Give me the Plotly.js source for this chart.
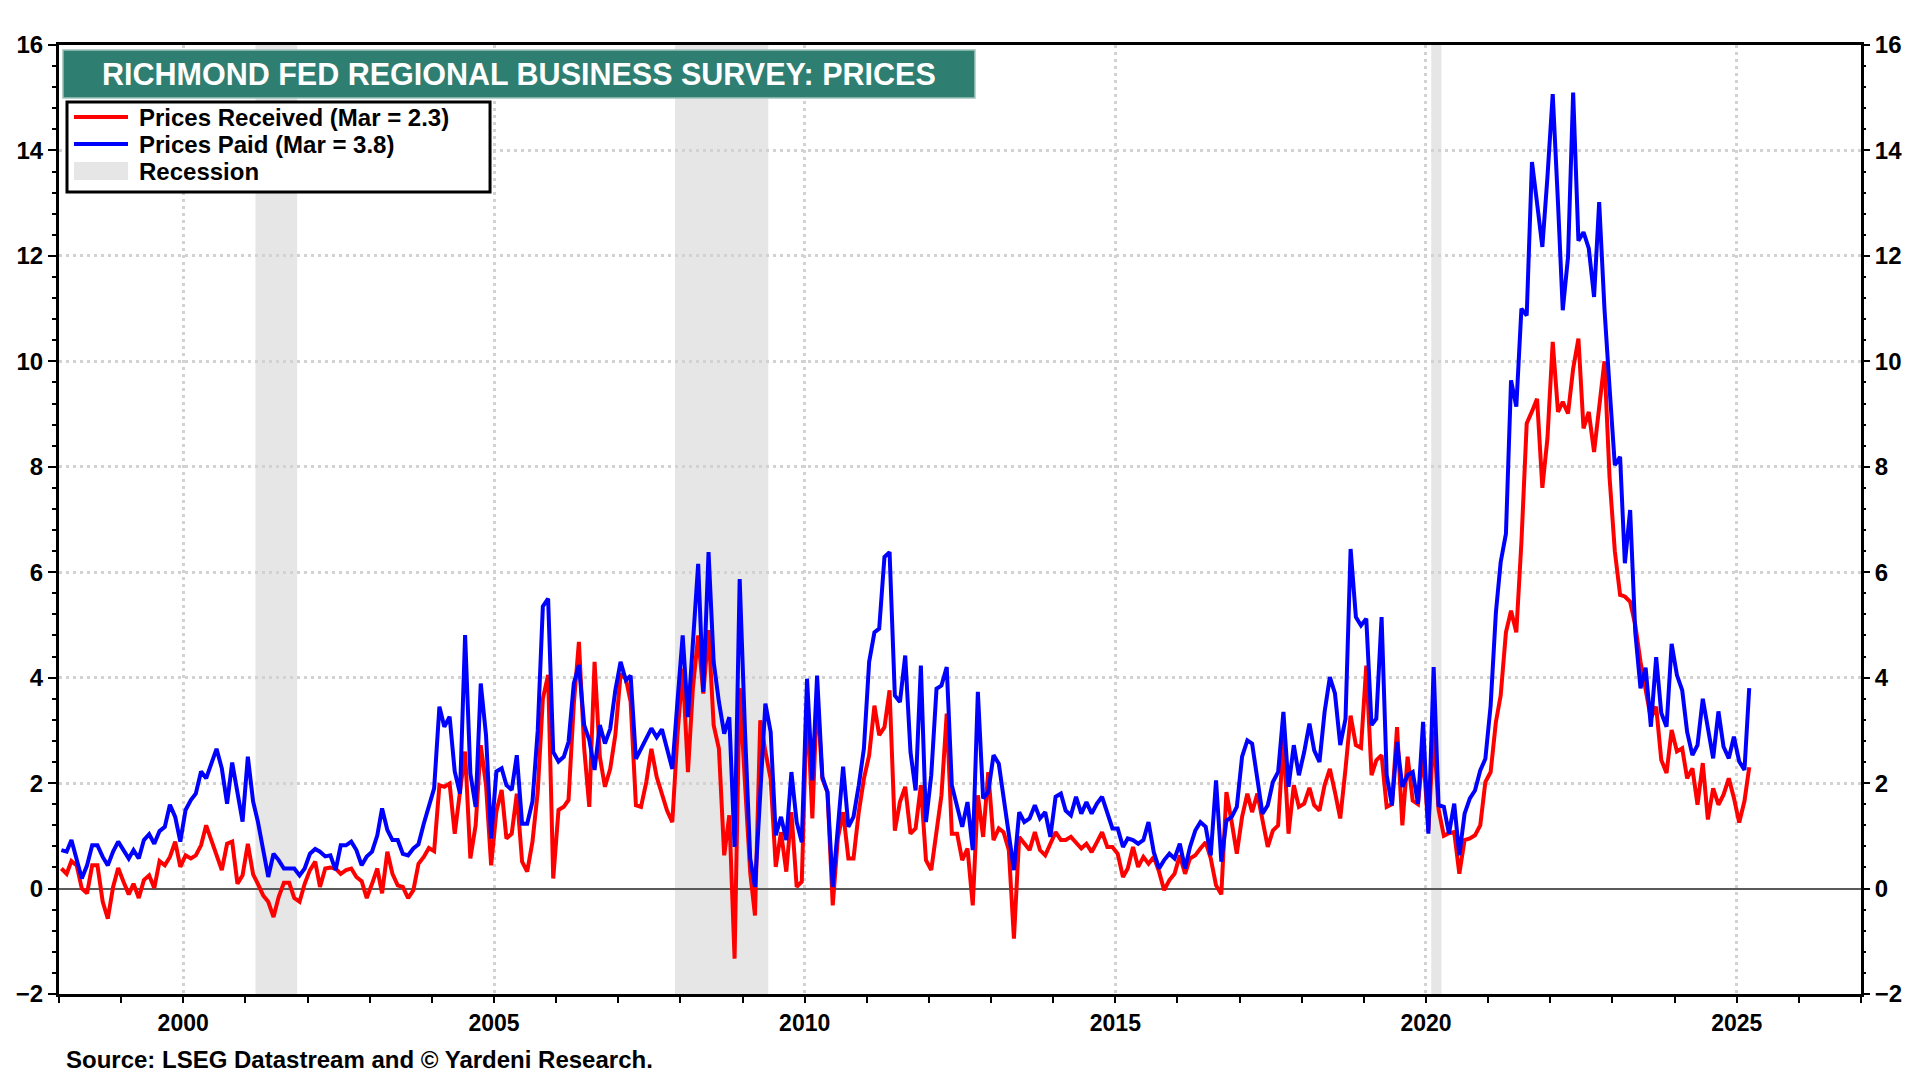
<!DOCTYPE html>
<html>
<head>
<meta charset="utf-8">
<script src="https://cdn.plot.ly/plotly-3.0.1.min.js"></script>
<style>
  html, body { margin: 0; padding: 0; background: #ffffff; }
  #chart { width: 1920px; height: 1080px; }
</style>
</head>
<body>
<div id="chart"></div>
<script>
// Monthly data, January 1998 through March 2025
const startYear = 1998;
const startMonth = 1;

const pricesReceived = [
  0.38, 0.28, 0.52, 0.44, 0.00, -0.09, 0.44, 0.44, -0.25, -0.57, 0.03, 0.39,
  0.13, -0.11, 0.09, -0.18, 0.16, 0.25, 0.01, 0.52, 0.44, 0.60, 0.89, 0.41,
  0.63, 0.57, 0.63, 0.82, 1.20, 0.92, 0.63, 0.35, 0.85, 0.89, 0.09, 0.25,
  0.85, 0.27, 0.09, -0.13, -0.25, -0.54, -0.16, 0.11, 0.11, -0.18, -0.25, 0.09,
  0.35, 0.51, 0.03, 0.38, 0.40, 0.38, 0.28, 0.35, 0.38, 0.22, 0.14, -0.18,
  0.09, 0.38, -0.09, 0.70, 0.28, 0.06, 0.03, -0.18, -0.03, 0.47, 0.60, 0.77,
  0.71, 1.96, 1.93, 1.99, 1.04, 1.80, 2.60, 0.57, 1.20, 2.72, 1.96, 0.44,
  1.46, 1.87, 0.95, 1.04, 1.80, 0.51, 0.32, 0.89, 1.84, 3.60, 4.05, 0.19,
  1.49, 1.55, 1.68, 3.50, 4.68, 2.66, 1.55, 4.30, 2.50, 1.93, 2.27, 2.91,
  4.07, 3.98, 3.54, 1.58, 1.55, 2.02, 2.65, 2.12, 1.77, 1.48, 1.26, 2.90,
  4.17, 2.21, 3.80, 4.80, 3.70, 4.90, 3.10, 2.65, 0.63, 1.39, -1.33, 3.80,
  2.00, 0.30, -0.51, 3.19, 2.60, 2.08, 0.41, 1.07, 0.32, 1.45, 0.03, 0.13,
  3.60, 1.33, 3.70, 2.08, 1.83, -0.32, 0.95, 1.45, 0.57, 0.57, 1.45, 2.08,
  2.53, 3.47, 2.91, 3.06, 3.76, 1.10, 1.64, 1.93, 1.04, 1.14, 1.96, 0.54,
  0.35, 1.14, 1.77, 3.32, 1.04, 1.04, 0.54, 0.76, -0.32, 1.77, 0.98, 2.21,
  0.92, 1.14, 1.07, 0.73, -0.95, 0.98, 0.85, 0.73, 1.07, 0.73, 0.63, 0.85,
  1.07, 0.92, 0.92, 0.98, 0.88, 0.76, 0.85, 0.69, 0.88, 1.07, 0.79, 0.79,
  0.66, 0.22, 0.38, 0.79, 0.41, 0.60, 0.47, 0.60, 0.32, -0.03, 0.16, 0.28,
  0.63, 0.28, 0.57, 0.63, 0.76, 0.88, 0.57, 0.06, -0.11, 1.83, 1.26, 0.66,
  1.36, 1.80, 1.45, 1.80, 1.30, 0.79, 1.10, 1.20, 2.84, 1.04, 1.96, 1.55,
  1.61, 1.91, 1.58, 1.48, 1.96, 2.27, 1.83, 1.33, 2.27, 3.28, 2.72, 2.67,
  4.23, 2.15, 2.43, 2.53, 1.55, 1.60, 3.06, 1.20, 2.50, 1.67, 1.60, 2.60,
  1.10, 3.00, 1.50, 1.00, 1.05, 1.07, 0.28, 0.92, 0.95, 1.01, 1.20, 2.02,
  2.21, 3.16, 3.66, 4.86, 5.27, 4.86, 6.57, 8.82, 9.05, 9.29, 7.60, 8.54,
  10.37, 9.04, 9.23, 9.01, 9.86, 10.43, 8.73, 9.04, 8.28, 9.20, 10.00, 7.80,
  6.40, 5.57, 5.54, 5.44, 5.00, 4.30, 3.80, 3.23, 3.45, 2.44, 2.19, 3.01,
  2.60, 2.66, 2.09, 2.28, 1.59, 2.38, 1.31, 1.90, 1.59, 1.78, 2.09, 1.72,
  1.25, 1.66, 2.30
];

const pricesPaid = [
  0.73, 0.70, 0.92, 0.57, 0.19, 0.44, 0.82, 0.82, 0.60, 0.44, 0.70, 0.89,
  0.73, 0.57, 0.73, 0.57, 0.92, 1.03, 0.85, 1.09, 1.17, 1.59, 1.36, 0.89,
  1.49, 1.68, 1.80, 2.22, 2.09, 2.37, 2.65, 2.28, 1.61, 2.39, 1.84, 1.27,
  2.50, 1.65, 1.27, 0.76, 0.22, 0.66, 0.54, 0.38, 0.38, 0.38, 0.25, 0.38,
  0.66, 0.75, 0.70, 0.61, 0.63, 0.35, 0.82, 0.82, 0.89, 0.73, 0.44, 0.61,
  0.70, 1.01, 1.52, 1.11, 0.92, 0.92, 0.66, 0.63, 0.76, 0.84, 1.23, 1.58,
  1.90, 3.45, 3.07, 3.26, 2.22, 1.80, 4.81, 2.18, 1.55, 3.89, 2.91, 0.95,
  2.22, 2.28, 1.96, 1.87, 2.53, 1.23, 1.23, 1.65, 3.00, 5.35, 5.50, 2.59,
  2.41, 2.50, 2.78, 3.89, 4.24, 3.10, 2.82, 2.25, 3.10, 2.75, 3.03, 3.76,
  4.30, 3.95, 4.04, 2.46, 2.65, 2.81, 3.04, 2.87, 3.02, 2.65, 2.27, 3.54,
  4.80, 3.25, 4.60, 6.16, 3.73, 6.38, 4.30, 3.54, 2.94, 3.25, 0.79, 5.87,
  3.00, 0.57, 0.03, 1.77, 3.51, 2.97, 1.01, 1.36, 0.92, 2.21, 1.26, 0.88,
  3.98, 2.05, 4.04, 2.12, 1.83, 0.03, 1.26, 2.31, 1.17, 1.36, 1.96, 2.65,
  4.30, 4.86, 4.93, 6.29, 6.38, 3.66, 3.54, 4.42, 2.59, 1.86, 4.23, 1.26,
  2.15, 3.79, 3.85, 4.20, 1.96, 1.58, 1.17, 1.64, 0.73, 3.73, 1.71, 1.83,
  2.53, 2.37, 1.77, 1.07, 0.35, 1.45, 1.26, 1.33, 1.58, 1.33, 1.45, 0.98,
  1.74, 1.80, 1.48, 1.39, 1.74, 1.42, 1.64, 1.42, 1.61, 1.74, 1.45, 1.14,
  1.14, 0.79, 0.95, 0.92, 0.85, 0.92, 1.26, 0.69, 0.38, 0.54, 0.66, 0.57,
  0.85, 0.38, 0.79, 1.10, 1.26, 1.17, 0.63, 2.05, 0.51, 1.29, 1.36, 1.55,
  2.50, 2.81, 2.75, 2.12, 1.42, 1.58, 2.02, 2.21, 3.35, 1.93, 2.72, 2.15,
  2.59, 3.13, 2.62, 2.40, 3.35, 4.01, 3.70, 2.72, 3.22, 6.44, 5.15, 4.99,
  5.12, 3.10, 3.22, 5.15, 2.15, 1.58, 2.78, 1.93, 2.15, 2.21, 1.61, 3.16,
  1.04, 4.20, 1.58, 1.55, 1.04, 1.61, 0.63, 1.42, 1.71, 1.86, 2.24, 2.46,
  3.47, 5.24, 6.19, 6.73, 9.64, 9.14, 11.00, 10.87, 13.78, 13.00, 12.17, 13.50,
  15.07, 13.00, 10.97, 11.98, 15.10, 12.29, 12.45, 12.14, 11.22, 13.02, 11.00, 9.50,
  8.03, 8.19, 6.17, 7.18, 4.87, 3.80, 4.19, 3.07, 4.39, 3.33, 3.07, 4.64,
  4.05, 3.76, 2.97, 2.53, 2.72, 3.60, 3.07, 2.47, 3.36, 2.69, 2.47, 2.88,
  2.41, 2.25, 3.80
];

// NBER recessions
const recessionStarts = ['2001-03-01', '2007-12-01', '2020-02-01'];
const recessionEnds   = ['2001-11-01', '2009-06-01', '2020-04-01'];

const seriesNames = ['Prices Received (Mar = 2.3)', 'Prices Paid (Mar = 3.8)', 'Recession'];
const seriesColors = ['#ff0000', '#0000ff', '#e6e6e6'];
const chartTitle = 'RICHMOND FED REGIONAL BUSINESS SURVEY: PRICES';
const sourceText = 'Source: LSEG Datastream and \u00A9 Yardeni Research.';
const yTickVals = [-2, 0, 2, 4, 6, 8, 10, 12, 14, 16];

// ---- build date axis (mid-month points) ----
const dates = pricesPaid.map((_, i) => {
  const m0 = (startMonth - 1) + i;
  const y = startYear + Math.floor(m0 / 12);
  const m = (m0 % 12) + 1;
  return y + '-' + String(m).padStart(2, '0') + '-15';
});

const FONT = 'Liberation Sans, Arial, Helvetica, sans-serif';

const traces = [
  {
    x: dates, y: pricesReceived, type: 'scatter', mode: 'lines',
    name: seriesNames[0], line: { color: seriesColors[0], width: 4 },
    showlegend: false, hoverinfo: 'x+y'
  },
  {
    x: dates, y: pricesPaid, type: 'scatter', mode: 'lines',
    name: seriesNames[1], line: { color: seriesColors[1], width: 4 },
    showlegend: false, hoverinfo: 'x+y'
  },
  {
    // right-hand duplicate axis carrier (invisible)
    x: [dates[0]], y: [0], yaxis: 'y2', type: 'scatter', mode: 'lines',
    showlegend: false, hoverinfo: 'skip', line: { width: 0 }, opacity: 0
  }
];

const shapes = recessionStarts.map((s, k) => ({
  type: 'rect', xref: 'x', yref: 'paper',
  x0: s, x1: recessionEnds[k], y0: 0, y1: 1,
  fillcolor: seriesColors[2], line: { width: 0 }, layer: 'below'
}));

// title box
shapes.push({
  type: 'rect', xref: 'paper', yref: 'paper',
  x0: 0.0022, x1: 0.5083, y0: 0.9442, y1: 0.9947,
  fillcolor: '#2e7e71', line: { color: '#9fc3bb', width: 1.5 }, layer: 'above'
});

// legend box (drawn by hand to match the original key)
const legX0 = 0.00444, legX1 = 0.2392, legY0 = 0.8451, legY1 = 0.9399;
const keyX0 = 0.00832, keyX1 = 0.03829, textX = 0.0433;
const rowY = [0.9241, 0.8956, 0.8672];
shapes.push({
  type: 'rect', xref: 'paper', yref: 'paper',
  x0: legX0, x1: legX1, y0: legY0, y1: legY1,
  fillcolor: '#ffffff', line: { color: '#000000', width: 3 }, layer: 'above'
});
shapes.push({
  type: 'line', xref: 'paper', yref: 'paper',
  x0: keyX0, x1: keyX1, y0: rowY[0], y1: rowY[0],
  line: { color: seriesColors[0], width: 4 }, layer: 'above'
});
shapes.push({
  type: 'line', xref: 'paper', yref: 'paper',
  x0: keyX0, x1: keyX1, y0: rowY[1], y1: rowY[1],
  line: { color: seriesColors[1], width: 4 }, layer: 'above'
});
shapes.push({
  type: 'rect', xref: 'paper', yref: 'paper',
  x0: keyX0, x1: keyX1, y0: rowY[2] - 0.0095, y1: rowY[2] + 0.0095,
  fillcolor: seriesColors[2], line: { width: 0 }, layer: 'above'
});

const annotations = [
  {
    text: chartTitle, xref: 'paper', yref: 'paper',
    x: 0.0225, y: 0.9694, xanchor: 'left', yanchor: 'middle',
    showarrow: false,
    font: { family: FONT, size: 30.5, color: '#ffffff', weight: 'bold' }
  },
  {
    text: sourceText, xref: 'paper', yref: 'paper',
    x: 0.0025, y: -0.0695, xanchor: 'left', yanchor: 'middle',
    showarrow: false,
    font: { family: FONT, size: 24, color: '#000000', weight: 'bold' }
  }
];
seriesNames.forEach((nm, k) => {
  annotations.push({
    text: nm, xref: 'paper', yref: 'paper',
    x: textX, y: rowY[k], xanchor: 'left', yanchor: 'middle',
    showarrow: false,
    font: { family: FONT, size: 24, color: '#000000', weight: 'bold' }
  });
});

const layout = {
  width: 1920, height: 1080,
  paper_bgcolor: '#ffffff', plot_bgcolor: '#ffffff',
  margin: { l: 59, r: 59, t: 45, b: 86 },
  font: { family: FONT, color: '#000000', size: 20, weight: 'bold' },
  showlegend: false,
  xaxis: {
    type: 'date',
    range: ['1998-01-01', '2027-01-01'],
    tick0: '2000-01-01', dtick: 'M60', tickformat: '%Y',
    ticks: 'outside', ticklen: 6, tickwidth: 2, tickcolor: '#000000',
    tickfont: { family: FONT, size: 23, color: '#000000', weight: 'bold' },
    showgrid: true, gridcolor: '#d2d2d2', gridwidth: 3, griddash: '3px,4px',
    minor: { dtick: 'M12', tick0: '1998-01-01', ticks: 'outside', ticklen: 6,
             tickwidth: 2, tickcolor: '#000000', showgrid: false },
    showline: true, linecolor: '#000000', linewidth: 3, mirror: true,
    zeroline: false, fixedrange: true
  },
  yaxis: {
    range: [-2, 16], tickvals: yTickVals,
    ticks: 'outside', ticklen: 8, tickwidth: 2, tickcolor: '#000000',
    tickfont: { family: FONT, size: 24, color: '#000000', weight: 'bold' },
    showgrid: true, gridcolor: '#d2d2d2', gridwidth: 3, griddash: '3px,4px',
    minor: { dtick: 0.4, tick0: 0, ticks: 'outside', ticklen: 4, tickwidth: 2,
             tickcolor: '#000000', showgrid: false },
    zeroline: true, zerolinecolor: '#5a5a5a', zerolinewidth: 2,
    showline: true, linecolor: '#000000', linewidth: 3, mirror: true,
    fixedrange: true
  },
  yaxis2: {
    range: [-2, 16], tickvals: yTickVals, overlaying: 'y', side: 'right',
    ticks: 'outside', ticklen: 8, tickwidth: 2, tickcolor: '#000000',
    tickfont: { family: FONT, size: 24, color: '#000000', weight: 'bold' },
    minor: { dtick: 0.4, tick0: 0, ticks: 'outside', ticklen: 4, tickwidth: 2,
             tickcolor: '#000000', showgrid: false },
    showgrid: false, zeroline: false, showline: false, fixedrange: true
  },
  shapes: shapes,
  annotations: annotations
};

Plotly.newPlot('chart', traces, layout, { staticPlot: true, displayModeBar: false });
</script>
</body>
</html>
